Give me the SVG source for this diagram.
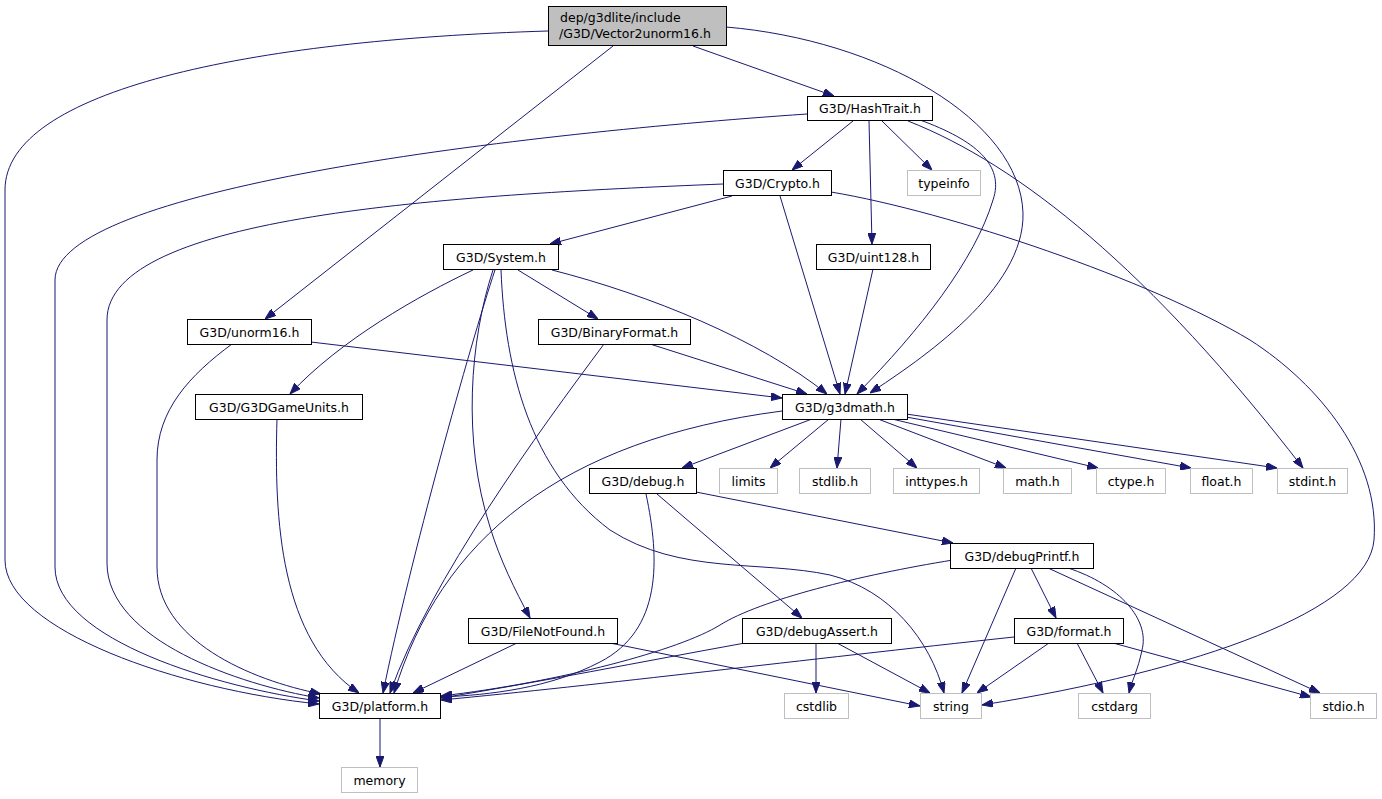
<svg xmlns="http://www.w3.org/2000/svg" width="1382" height="799" viewBox="0 0 1382 799">
<style>
.n rect{fill:#ffffff;stroke:#000000;stroke-width:1}
.x rect{fill:#ffffff;stroke:#bfbfbf;stroke-width:1}
.r rect{fill:#bfbfbf;stroke:#000000;stroke-width:1}
text{font-family:"DejaVu Sans","Liberation Sans",sans-serif;font-size:12.5px;fill:#000000;text-anchor:middle}
.l{text-anchor:start}
#edges path{fill:none;stroke:#191970;stroke-width:1;marker-end:url(#arr)}
</style>
<defs>
<marker id="arr" viewBox="0 0 11 8" refX="11" refY="4" markerWidth="11" markerHeight="8" markerUnits="userSpaceOnUse" orient="auto">
<path d="M0,0 L11,4 L0,8 z" fill="#191970" stroke="#191970" stroke-width="1"/>
</marker>
</defs>
<rect x="0" y="0" width="1382" height="799" fill="#ffffff"/>
<g id="edges">
<path d="M693,46 L834,96"/>
<path d="M613,46 L265,319"/>
<path d="M726,27 C880,40 1020,120 1023,213 C1025,290 920,360 870,393"/>
<path d="M548,31 C250,40 5,90 5,190 L5,560 C5,630 180,690 319,704"/>
<path d="M853,121 L792,170"/>
<path d="M882,121 L932,170"/>
<path d="M869,121 L872,244"/>
<path d="M920,120 C975,140 1005,165 993,200 C975,260 920,330 857,394"/>
<path d="M908,121 C1020,165 1150,270 1303,468"/>
<path d="M807,114 C500,135 55,190 55,280 L55,567 C55,640 220,688 319,701"/>
<path d="M732,196 L550,244"/>
<path d="M780,196 L840,394"/>
<path d="M831,192 C950,212 1150,280 1250,340 C1320,385 1380,460 1374,540 C1368,610 1200,670 982,705"/>
<path d="M723,184 C450,195 107,215 107,320 L107,563 C107,640 240,685 319,698"/>
<path d="M473,270 C420,295 340,340 290,394"/>
<path d="M495,270 C470,345 410,560 383,693"/>
<path d="M493,270 C470,340 462,440 490,527 C500,560 515,590 530,618"/>
<path d="M501,270 C505,370 530,470 610,530 C680,575 760,560 830,575 C890,590 930,640 944,693"/>
<path d="M518,270 L598,319"/>
<path d="M552,270 C650,295 760,340 827,394"/>
<path d="M873,269 L845,394"/>
<path d="M311,342 L782,398"/>
<path d="M232,344 C190,375 157,410 157,460 L157,567 C157,640 250,680 321,694"/>
<path d="M650,344 L807,394"/>
<path d="M604,344 C540,430 430,580 390,693"/>
<path d="M277,419 C274,520 280,640 359,693"/>
<path d="M782,411 C560,440 440,540 394,693"/>
<path d="M812,419 L682,468"/>
<path d="M829,419 L770,468"/>
<path d="M841,419 L837,468"/>
<path d="M860,419 L917,468"/>
<path d="M878,419 L1006,468"/>
<path d="M892,419 L1098,468"/>
<path d="M906,417 L1191,468"/>
<path d="M906,414 L1277,468"/>
<path d="M657,494 L802,618"/>
<path d="M696,492 L953,543"/>
<path d="M646,494 C660,560 662,630 600,662 C550,688 490,695 441,697"/>
<path d="M1016,568 L962,693"/>
<path d="M1031,568 L1056,618"/>
<path d="M1068,568 C1120,585 1150,620 1142,650 C1138,670 1132,680 1129,693"/>
<path d="M1048,568 L1320,693"/>
<path d="M953,560 C860,575 760,600 720,625 C680,650 560,682 441,696"/>
<path d="M517,643 L413,693"/>
<path d="M610,643 L920,706"/>
<path d="M745,643 C640,662 540,682 441,698"/>
<path d="M816,643 L816,693"/>
<path d="M837,643 L930,693"/>
<path d="M1014,637 C800,660 600,685 441,700"/>
<path d="M1049,643 L977,693"/>
<path d="M1077,643 L1103,693"/>
<path d="M1113,643 L1311,697"/>
<path d="M380,718 L380,767"/>
</g>
<g id="n_vector2unorm16" class="r"><rect x="548.5" y="6.5" width="178" height="39"/><text class="l" x="560" y="22">dep/g3dlite/include</text><text class="l" x="559" y="38">/G3D/Vector2unorm16.h</text></g>
<g id="n_hashtrait" class="n"><rect x="807.5" y="96.5" width="125" height="24"/><text x="870" y="113">G3D/HashTrait.h</text></g>
<g id="n_crypto" class="n"><rect x="723.5" y="170.5" width="108" height="25"/><text x="777.5" y="187.5">G3D/Crypto.h</text></g>
<g id="n_typeinfo" class="x"><rect x="907.5" y="170.5" width="73" height="25"/><text x="944" y="187.5">typeinfo</text></g>
<g id="n_system" class="n"><rect x="443.5" y="244.5" width="115" height="25"/><text x="501" y="261.5">G3D/System.h</text></g>
<g id="n_uint128" class="n"><rect x="816.5" y="244.5" width="114" height="25"/><text x="873.5" y="261.5">G3D/uint128.h</text></g>
<g id="n_unorm16" class="n"><rect x="187.5" y="319.5" width="124" height="25"/><text x="249.5" y="336.5">G3D/unorm16.h</text></g>
<g id="n_binaryformat" class="n"><rect x="538.5" y="319.5" width="152" height="25"/><text x="614.5" y="336.5">G3D/BinaryFormat.h</text></g>
<g id="n_g3dgameunits" class="n"><rect x="195.5" y="394.5" width="167" height="25"/><text x="279" y="411.5">G3D/G3DGameUnits.h</text></g>
<g id="n_g3dmath" class="n"><rect x="782.5" y="394.5" width="125" height="25"/><text x="845" y="411.5">G3D/g3dmath.h</text></g>
<g id="n_debug" class="n"><rect x="589.5" y="468.5" width="107" height="25"/><text x="643" y="485.5">G3D/debug.h</text></g>
<g id="n_limits" class="x"><rect x="719.5" y="468.5" width="58" height="25"/><text x="748.5" y="485.5">limits</text></g>
<g id="n_stdlib" class="x"><rect x="799.5" y="468.5" width="71" height="25"/><text x="835" y="485.5">stdlib.h</text></g>
<g id="n_inttypes" class="x"><rect x="893.5" y="468.5" width="86" height="25"/><text x="936.5" y="485.5">inttypes.h</text></g>
<g id="n_math" class="x"><rect x="1003.5" y="468.5" width="68" height="25"/><text x="1037.5" y="485.5">math.h</text></g>
<g id="n_ctype" class="x"><rect x="1096.5" y="468.5" width="69" height="25"/><text x="1131" y="485.5">ctype.h</text></g>
<g id="n_float" class="x"><rect x="1190.5" y="468.5" width="62" height="25"/><text x="1221.5" y="485.5">float.h</text></g>
<g id="n_stdint" class="x"><rect x="1277.5" y="468.5" width="70" height="25"/><text x="1312.5" y="485.5">stdint.h</text></g>
<g id="n_debugprintf" class="n"><rect x="950.5" y="543.5" width="143" height="25"/><text x="1022" y="560.5">G3D/debugPrintf.h</text></g>
<g id="n_filenotfound" class="n"><rect x="468.5" y="618.5" width="149" height="25"/><text x="543" y="635.5">G3D/FileNotFound.h</text></g>
<g id="n_debugassert" class="n"><rect x="742.5" y="618.5" width="149" height="25"/><text x="817" y="635.5">G3D/debugAssert.h</text></g>
<g id="n_format" class="n"><rect x="1014.5" y="618.5" width="109" height="25"/><text x="1069" y="635.5">G3D/format.h</text></g>
<g id="n_platform" class="n"><rect x="319.5" y="693.5" width="121" height="25"/><text x="380" y="710.5">G3D/platform.h</text></g>
<g id="n_cstdlib" class="x"><rect x="784.5" y="693.5" width="64" height="25"/><text x="816.5" y="710.5">cstdlib</text></g>
<g id="n_string" class="x"><rect x="920.5" y="693.5" width="61" height="25"/><text x="951" y="710.5">string</text></g>
<g id="n_cstdarg" class="x"><rect x="1078.5" y="693.5" width="72" height="25"/><text x="1114.5" y="710.5">cstdarg</text></g>
<g id="n_stdio" class="x"><rect x="1310.5" y="693.5" width="66" height="25"/><text x="1343.5" y="710.5">stdio.h</text></g>
<g id="n_memory" class="x"><rect x="341.5" y="767.5" width="76" height="25"/><text x="379.5" y="784.5">memory</text></g>
</svg>
